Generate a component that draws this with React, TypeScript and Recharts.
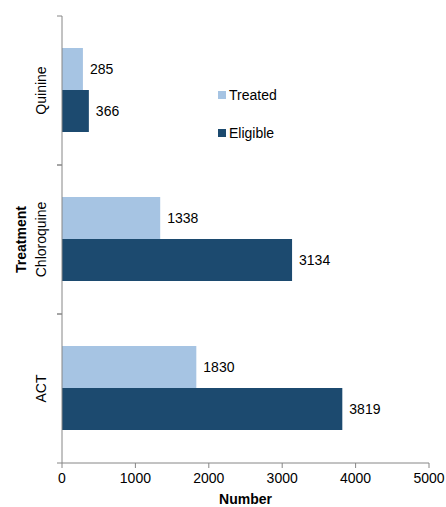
import { BarChart, Bar, XAxis, YAxis, Legend, LabelList } from 'recharts'

const categories = ['Quinine', 'Chloroquine', 'ACT']
const treated = [285, 1338, 1830]
const eligible = [366, 3134, 3819]
const xTicks = [0, 1000, 2000, 3000, 4000, 5000]
const legendOrder = ['Treated', 'Eligible']

const LIGHT = '#a6c4e3'
const DARK = '#1c4a6f'
const AXIS_COLOR = '#868686'
const FONT = '"Liberation Sans", Arial, sans-serif'
const TXT = { fontSize: 14, fill: '#000', fontFamily: FONT }

const data = categories.map((name, i) => ({ name, treated: treated[i], eligible: eligible[i] }))

// category label rotated, plus tick marks at the band edges (excel style)
function CatTick({ x, y, payload }: any) {
  const half = payload?.offset ?? 0
  return (
    <g>
      <line x1={x - 5} x2={x} y1={y - half} y2={y - half} stroke={AXIS_COLOR} />
      <line x1={x - 5} x2={x} y1={y + half} y2={y + half} stroke={AXIS_COLOR} />
      <text x={x - 16} y={y} transform={`rotate(-90 ${x - 16} ${y})`} textAnchor="middle"
        fontSize={14} fill="#000" fontFamily={FONT}>
        {payload.value}
      </text>
    </g>
  )
}

function TreatmentLabel({ viewBox }: any) {
  const cx = viewBox.x + 21
  const cy = viewBox.y + viewBox.height / 2
  return (
    <text x={cx} y={cy} transform={`rotate(-90 ${cx} ${cy})`} textAnchor="middle"
      dominantBaseline="central" fontSize={14} fontWeight="bold" fill="#000" fontFamily={FONT}>
      Treatment
    </text>
  )
}

function LegendBox({ payload }: any) {
  const items = legendOrder.map((n) => payload.find((p: any) => p.value === n)).filter(Boolean)
  return (
    <div style={{ fontFamily: FONT, fontSize: 14, color: '#000' }}>
      {items.map((p: any) => (
        <div key={p.value} style={{ display: 'flex', alignItems: 'center', height: 38 }}>
          <span style={{ width: 8, height: 8, background: p.color, marginRight: 3, display: 'inline-block' }} />
          {p.value}
        </div>
      ))}
    </div>
  )
}

export default function App() {
  return (
    <div style={{ position: 'absolute', left: 0, top: 0, background: '#fff' }}>
      <BarChart width={446} height={507} data={data} layout="vertical"
        barCategoryGap="21.5%" barGap={0}
        margin={{ top: 16, right: 17, left: 0, bottom: 0 }}>
        <XAxis type="number" domain={[0, 5000]} ticks={xTicks} height={44}
          stroke={AXIS_COLOR} tickSize={5} tickMargin={5}
          tick={TXT}
          label={{ value: 'Number', position: 'insideBottom', offset: 3,
            style: { ...TXT, fontWeight: 'bold' } }} />
        <YAxis type="category" dataKey="name" width={62} stroke={AXIS_COLOR}
          tickLine={false} tickSize={0} tickMargin={0} tick={<CatTick />}
          label={<TreatmentLabel />} />
        <Legend layout="vertical" align="center" verticalAlign="middle" content={<LegendBox />}
          wrapperStyle={{ left: 218, top: 76, width: 100 }} />
        <Bar dataKey="treated" name="Treated" fill={LIGHT} isAnimationActive={false}>
          <LabelList dataKey="treated" position="right" offset={7} style={TXT} />
        </Bar>
        <Bar dataKey="eligible" name="Eligible" fill={DARK} isAnimationActive={false}>
          <LabelList dataKey="eligible" position="right" offset={7} style={TXT} />
        </Bar>
      </BarChart>
    </div>
  )
}
